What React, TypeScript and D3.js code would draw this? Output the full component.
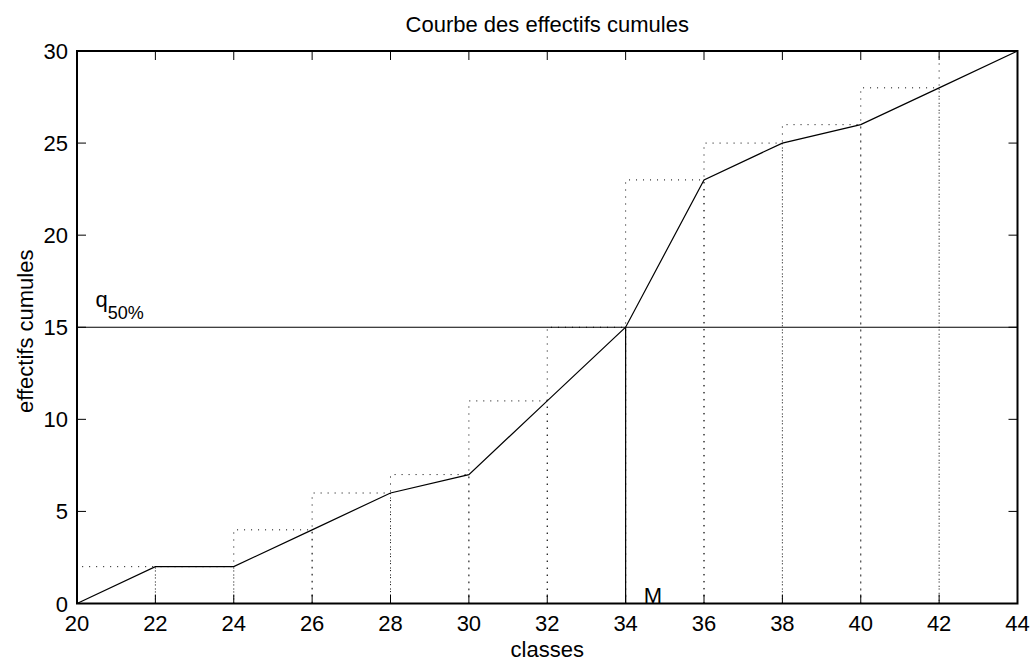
import React from "react";
import * as d3 from "d3";

// bornes des classes et effectifs cumules
const classes = [20, 22, 24, 26, 28, 30, 32, 34, 36, 38, 40, 42, 44];
const cumules = [0, 2, 2, 4, 6, 7, 11, 15, 23, 25, 26, 28, 30];
const xTicks = [20, 22, 24, 26, 28, 30, 32, 34, 36, 38, 40, 42, 44];
const yTicks = [0, 5, 10, 15, 20, 25, 30];
const mediane = 34;
const demiEffectif = 15;

const W = 1034;
const H = 661;
const margin = { top: 51, right: 16.5, bottom: 57.5, left: 77 };
const font = "'Liberation Sans', Arial, sans-serif";

const App = () => {
  const x = d3.scaleLinear().domain([20, 44]).range([margin.left, W - margin.right]);
  const y = d3.scaleLinear().domain([0, 30]).range([H - margin.bottom, margin.top]);

  const pts: [number, number][] = classes.map((c, i) => [c, cumules[i]]);
  const line = d3
    .line<[number, number]>()
    .x((d) => x(d[0]))
    .y((d) => y(d[1]));

  // barres en pointilles : [c_i, c_i+1] de hauteur cumules[i+1]
  const bars = classes.slice(0, -1).map((c, i) => ({ x0: c, x1: classes[i + 1], h: cumules[i + 1] }));

  const tick = 9;
  const x0 = x(20), x1 = x(44), y0 = y(0), y1 = y(30);

  return (
    <svg
      width={W}
      height={H}
      style={{ position: "absolute", left: 0, top: 0, background: "#fff" }}
      fontFamily={font}
    >
      <rect width={W} height={H} fill="#fff" />

      {bars.map((b, i) => (
        <path
          key={i}
          d={`M${x(b.x0)},${y(0)}V${y(b.h)}H${x(b.x1)}V${y(0)}`}
          fill="none"
          stroke="#000"
          strokeWidth={1}
          strokeDasharray="1,6"
        />
      ))}

      {/* q50% et mediane */}
      <line x1={x0} x2={x1} y1={y(demiEffectif)} y2={y(demiEffectif)} stroke="#000" strokeWidth={1.2} />
      <line x1={x(mediane)} x2={x(mediane)} y1={y(demiEffectif)} y2={y(0)} stroke="#000" strokeWidth={1.2} />

      <path d={line(pts) ?? ""} fill="none" stroke="#000" strokeWidth={1.2} />

      {/* cadre */}
      <rect x={x0} y={y1} width={x1 - x0} height={y0 - y1} fill="none" stroke="#000" strokeWidth={2} />

      {xTicks.map((t) => (
        <g key={"x" + t}>
          <line x1={x(t)} x2={x(t)} y1={y0} y2={y0 - tick} stroke="#000" />
          <line x1={x(t)} x2={x(t)} y1={y1} y2={y1 + tick} stroke="#000" />
          <text x={x(t)} y={631} textAnchor="middle" fontSize={22}>
            {t}
          </text>
        </g>
      ))}
      {yTicks.map((t) => (
        <g key={"y" + t}>
          <line x1={x0} x2={x0 + tick} y1={y(t)} y2={y(t)} stroke="#000" />
          <line x1={x1} x2={x1 - tick} y1={y(t)} y2={y(t)} stroke="#000" />
          <text x={x0 - 9} y={y(t) + 8} textAnchor="end" fontSize={22}>
            {t}
          </text>
        </g>
      ))}

      <text x={95.5} y={307} fontSize={22}>
        q<tspan fontSize={18} dy={12}>50%</tspan>
      </text>
      <text x={x(mediane) + 18} y={y(0) - 0.5} fontSize={22}>
        M
      </text>

      <text x={(x0 + x1) / 2} y={32} textAnchor="middle" fontSize={22}>
        Courbe des effectifs cumules
      </text>
      <text x={(x0 + x1) / 2} y={657} textAnchor="middle" fontSize={22}>
        classes
      </text>
      <text
        transform={`translate(33,${(y0 + y1) / 2 + 4}) rotate(-90)`}
        textAnchor="middle"
        fontSize={22}
      >
        effectifs cumules
      </text>
    </svg>
  );
};

export default App;
